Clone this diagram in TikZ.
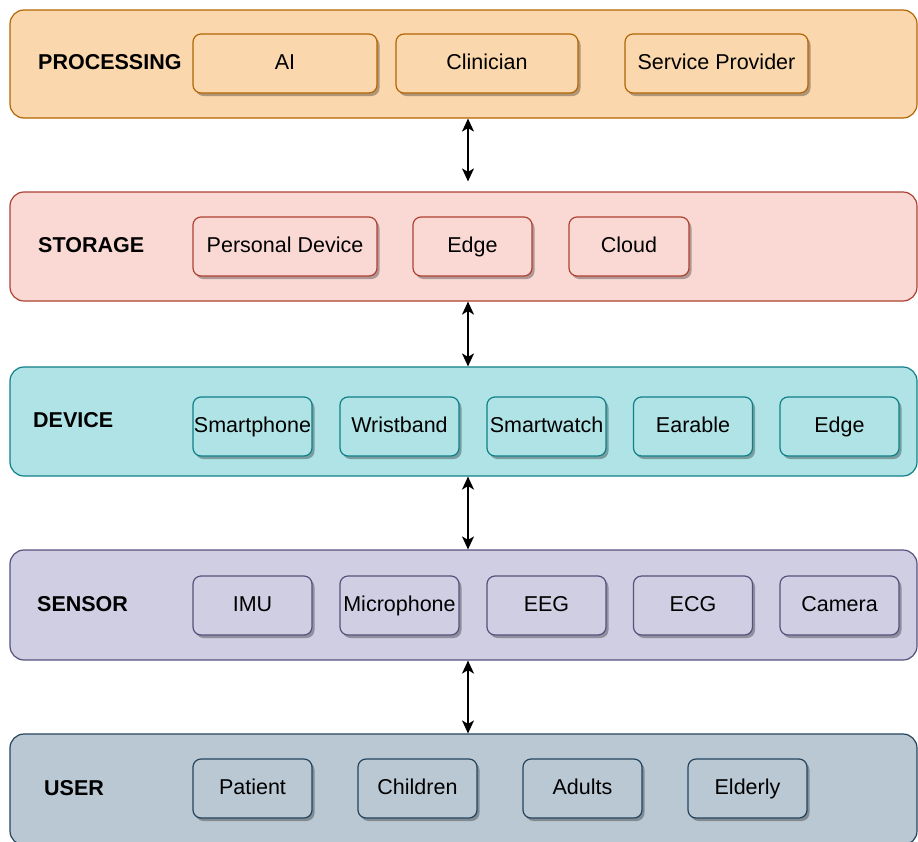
\documentclass[tikz,border=0pt]{standalone}
\usepackage{fontspec}
\setmainfont{Liberation Sans}
\usetikzlibrary{arrows.meta,shadows}
\definecolor{procfill}{HTML}{FAD7AC}\definecolor{procline}{HTML}{B46504}
\definecolor{storfill}{HTML}{FAD9D5}\definecolor{storline}{HTML}{AE4132}
\definecolor{devfill}{HTML}{B0E3E6}\definecolor{devline}{HTML}{0E8088}
\definecolor{sensfill}{HTML}{D0CEE2}\definecolor{sensline}{HTML}{56517E}
\definecolor{userfill}{HTML}{BAC8D3}\definecolor{userline}{HTML}{23445D}
\tikzset{
  layer/.style={draw, line width=1.2pt, rounded corners=14pt, minimum width=907pt, inner sep=0pt},
  item/.style={draw, line width=1.2pt, rounded corners=8pt, minimum height=59pt, inner sep=0pt,
    text height=15.5pt, text depth=4.5pt,
    font=\fontsize{21.5}{24}\selectfont,
    drop shadow={shadow xshift=2.5pt, shadow yshift=-3pt, fill=black, opacity=.3}},
  lbl/.style={anchor=west, inner sep=0pt, font=\fontsize{21.5}{24}\selectfont\bfseries},
  link/.style={{Stealth[length=13pt,width=12pt,inset=3.5pt]}-{Stealth[length=13pt,width=12pt,inset=3.5pt]}, line width=1.3pt}
}
\begin{document}
\begin{tikzpicture}[x=1pt, y=-1pt]
  \useasboundingbox (0,0) rectangle (918,841);
  % layers
  \node[layer, fill=procfill, draw=procline, minimum height=108pt] (proc) at (463.5,64) {};
  \node[layer, fill=storfill, draw=storline, minimum height=109pt] (stor) at (463.5,246.5) {};
  \node[layer, fill=devfill, draw=devline, minimum height=109pt] (dev) at (463.5,421.5) {};
  \node[layer, fill=sensfill, draw=sensline, minimum height=110pt] (sens) at (463.5,605) {};
  \node[layer, fill=userfill, draw=userline, minimum height=111pt] (user) at (463.5,789.5) {};
  % layer names
  \node[lbl] (procname) at (38,62) {PROCESSING};
  \node[lbl] (storname) at (38,245) {STORAGE};
  \node[lbl] (devname) at (33,420) {DEVICE};
  \node[lbl] (sensname) at (37,604) {SENSOR};
  \node[lbl] (username) at (44,788) {USER};
  % processing
  \node[item, fill=procfill, draw=procline, minimum width=184pt] (ai) at (285,63.5) {AI};
  \node[item, fill=procfill, draw=procline, minimum width=182pt] (clin) at (487,63.5) {Clinician};
  \node[item, fill=procfill, draw=procline, minimum width=183pt] (serv) at (716.5,63.5) {Service Provider};
  % storage
  \node[item, fill=storfill, draw=storline, minimum width=184pt] (pers) at (285,246.5) {Personal Device};
  \node[item, fill=storfill, draw=storline, minimum width=119pt] (edge1) at (472.5,246.5) {Edge};
  \node[item, fill=storfill, draw=storline, minimum width=120pt] (cloud) at (629,246.5) {Cloud};
  % device
  \foreach \name/\x/\txt in {phone/252.5/Smartphone, band/399.5/Wristband, watch/546.5/Smartwatch,
      ear/693/Earable, edge2/839.5/Edge}
    \node[item, fill=devfill, draw=devline, minimum width=119pt] (\name) at (\x,426.5) {\txt};
  % sensor
  \foreach \name/\x/\txt in {imu/252.5/IMU, mic/399.5/Microphone, eeg/546.5/EEG,
      ecg/693/ECG, cam/839.5/Camera}
    \node[item, fill=sensfill, draw=sensline, minimum width=119pt] (\name) at (\x,605.5) {\txt};
  % user
  \foreach \name/\x/\txt in {pat/252.5/Patient, child/417.5/Children, adult/582.5/Adults,
      old/747.5/Elderly}
    \node[item, fill=userfill, draw=userline, minimum width=119pt] (\name) at (\x,788.5) {\txt};
  % links
  \coordinate (ax) at (468,0);
  \draw[link] (proc.south -| ax) -- ([yshift=10pt]stor.north -| ax);
  \draw[link] (stor.south -| ax) -- (dev.north -| ax);
  \draw[link] (dev.south -| ax) -- (sens.north -| ax);
  \draw[link] (sens.south -| ax) -- (user.north -| ax);
\end{tikzpicture}
\end{document}
